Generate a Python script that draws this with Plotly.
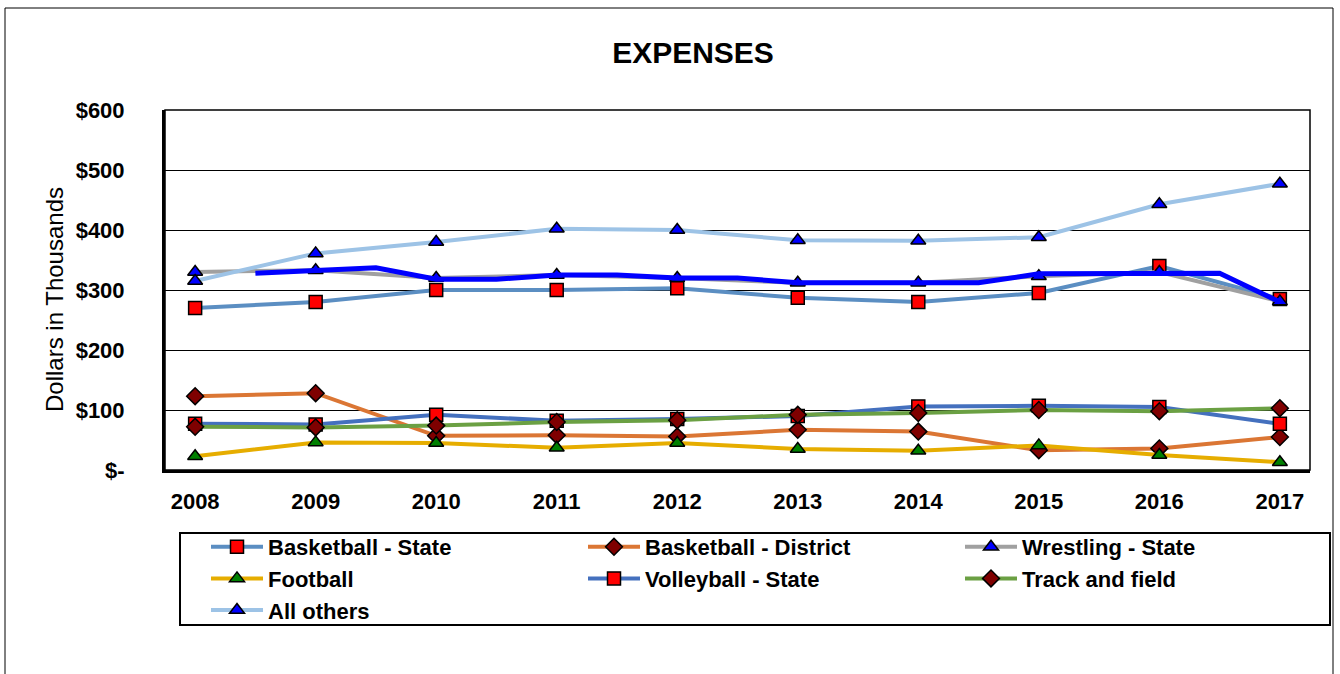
import plotly.graph_objects as go

years = [2008, 2009, 2010, 2011, 2012, 2013, 2014, 2015, 2016, 2017]

basketball_state = [270, 280, 300, 300, 303, 287, 280, 295, 340, 285]
basketball_district = [123, 128, 57, 58, 56, 67, 64, 33, 36, 55]
wrestling_state = [330, 333, 320, 325, 320, 312, 312, 323, 330, 281]
football = [23, 46, 45, 37, 45, 35, 32, 41, 25, 13]
volleyball_state = [77, 76, 92, 82, 85, 90, 106, 107, 105, 77]
track_and_field = [72, 71, 74, 80, 83, 92, 95, 100, 98, 103]
all_others = [315, 361, 380, 402, 400, 383, 382, 388, 443, 477]

# hand-drawn highlight line (not in legend)
highlight_x = [2008.5, 2009.5, 2010, 2010.5, 2011, 2011.5, 2012, 2012.5, 2013, 2014.5, 2015, 2016.5, 2017]
highlight_y = [328, 337, 318, 318, 325, 325, 320, 320, 312, 312, 327, 328, 280]

y_ticks = [0, 100, 200, 300, 400, 500, 600]
y_tick_labels = ["$-", "$100", "$200", "$300", "$400", "$500", "$600"]

series = [
    ("Basketball - State", basketball_state, "#5B8EC2", "square", "#FF0000"),
    ("Basketball - District", basketball_district, "#DB7634", "diamond", "#7F0000"),
    ("Wrestling - State", wrestling_state, "#A0A0A0", "triangle-up", "#0000FF"),
    ("Football", football, "#E6AD00", "triangle-up", "#008000"),
    ("Volleyball - State", volleyball_state, "#4470BE", "square", "#FF0000"),
    ("Track and field", track_and_field, "#6BA043", "diamond", "#7F0000"),
    ("All others", all_others, "#9DC3E6", "triangle-up", "#0000FF"),
]

FONT = "Liberation Sans, Arial, sans-serif"

fig = go.Figure()
for name, vals, lc, sym, mc in series:
    fig.add_trace(go.Scatter(
        x=years, y=vals, name=name, mode="lines+markers",
        line=dict(color=lc, width=4),
        marker=dict(symbol=sym, color=mc, size=13, line=dict(color="black", width=1.5)),
    ))

fig.add_trace(go.Scatter(
    x=highlight_x, y=highlight_y, mode="lines", showlegend=False,
    line=dict(color="#0000FF", width=5), hoverinfo="skip",
))

L, T, W, H = 165, 110, 1145, 360
page_w, page_h = 1340, 674
B = T + H


def px_x(p):
    return (p - L) / W


def px_y(p):
    return (B - p) / H


fig.update_layout(
    width=page_w, height=page_h,
    margin=dict(l=L, r=page_w - L - W, t=T, b=page_h - B, autoexpand=False),
    paper_bgcolor="white", plot_bgcolor="white",
    font=dict(family=FONT, color="black"),
    title=dict(text="<b>EXPENSES</b>", x=px_x(693), xref="paper", xanchor="center",
               y=1 - 52 / page_h, yanchor="middle", font=dict(size=30, family=FONT)),
    legend=dict(
        orientation="h", x=px_x(206), y=px_y(526), xanchor="left", yanchor="top",
        entrywidth=310, entrywidthmode="pixels", itemwidth=52,
        font=dict(size=22, family=FONT, weight="bold"),
        borderwidth=0, bgcolor="rgba(0,0,0,0)",
    ),
    showlegend=True,
)

fig.update_xaxes(
    range=[2007.75, 2017.25], tickvals=years, ticktext=[str(y) for y in years],
    showgrid=False, zeroline=False, showline=True, linecolor="black", linewidth=3,
    tickfont=dict(size=22, family=FONT, weight="bold"), ticks="", ticklabelstandoff=10,
)
fig.update_yaxes(
    range=[0, 600], tickvals=y_ticks, ticktext=y_tick_labels,
    showgrid=True, gridcolor="black", gridwidth=1.2, zeroline=False,
    showline=True, linecolor="black", linewidth=3,
    tickfont=dict(size=22, family=FONT, weight="bold"), ticks="", ticklabelstandoff=33,
)

fig.add_annotation(text="Dollars in Thousands", textangle=-90, xref="paper", yref="paper",
                   x=px_x(54), y=px_y(300), xanchor="center", yanchor="middle",
                   showarrow=False, font=dict(size=24, family=FONT))

# plot-area border, legend box and chart-area frame
fig.add_shape(type="rect", xref="paper", yref="paper", x0=0, x1=1, y0=0, y1=1,
              line=dict(color="black", width=1.5), layer="below")
fig.add_shape(type="rect", xref="paper", yref="paper",
              x0=px_x(180), x1=px_x(1330), y0=px_y(625), y1=px_y(533),
              line=dict(color="black", width=2))
fig.add_shape(type="rect", xref="paper", yref="paper",
              x0=px_x(5), x1=px_x(1333), y0=px_y(690), y1=px_y(8),
              line=dict(color="black", width=1))

fig.write_html("out.html", config={"displayModeBar": False},
               post_script="document.body.style.margin='0';")
